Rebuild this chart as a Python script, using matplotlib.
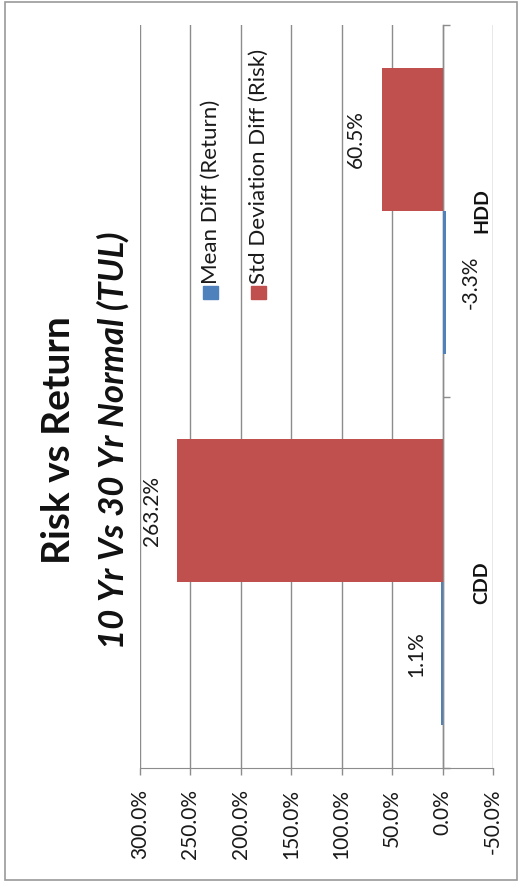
import matplotlib
matplotlib.use("Agg")
import matplotlib.pyplot as plt
from matplotlib.patches import Rectangle
from matplotlib.ticker import FuncFormatter, FixedLocator

# Risk vs return, 10 yr vs 30 yr normal, laid out sideways
categories = ["CDD", "HDD"]
mean_diff = [1.1, -3.3]        # return, %
std_diff = [263.2, 60.5]       # risk, %
series_names = ["Mean Diff (Return)", "Std Deviation Diff (Risk)"]
value_ticks = [300, 250, 200, 150, 100, 50, 0, -50]

BLUE = "#4F81BD"
RED = "#C0504D"
GRID = "#8C8C8C"
FONT = "Lato"

W, H = 518, 884
fig = plt.figure(figsize=(W / 100, H / 100), dpi=100)
fig.patch.set_facecolor("white")

def fx(px):
    return px / W

def fy(py):
    return 1 - py / H

# chart border
fig.patches.append(Rectangle((fx(5), fy(880)), fx(512), (880 - 2) / H,
                             transform=fig.transFigure, fill=False,
                             edgecolor="#9A9A9A", linewidth=1.2))

ax = fig.add_axes([fx(140), fy(768), fx(493 - 140), (768 - 25) / H])
ax.set_facecolor("white")

bh = 0.385
pos = list(range(len(categories)))
mean_y = [p - bh / 2 for p in pos]
std_y = [p + bh / 2 for p in pos]
ax.barh(mean_y, mean_diff, height=bh, color=BLUE, zorder=3)
ax.barh(std_y, std_diff, height=bh, color=RED, zorder=3)

ax.set_xlim(300, -50)
ax.set_ylim(-0.5, 1.5)

# value axis along the bottom
ax.xaxis.set_major_locator(FixedLocator(value_ticks))
ax.xaxis.set_major_formatter(FuncFormatter(lambda v, _: f"{v:.1f}%"))
ax.grid(axis="x", color=GRID, linewidth=1.0, zorder=0)
ax.tick_params(axis="x", direction="out", length=5, width=1.0, color=GRID,
               pad=10, labelrotation=90, labelsize=15)
for lab in ax.get_xticklabels():
    lab.set_fontfamily(FONT)
    lab.set_color("#1A1A1A")

for s in ["left", "top"]:
    ax.spines[s].set_visible(False)
ax.spines["bottom"].set_color(GRID)
ax.spines["right"].set_position(("data", 0))
ax.spines["right"].set_color(GRID)
ax.spines["right"].set_linewidth(1.0)

# category axis crossing at zero
ax.yaxis.tick_right()
ax.set_yticks([-0.5, 0.5, 1.5])
ax.set_yticklabels([])
ax.set_yticks(pos, minor=True)
ax.set_yticklabels(categories, minor=True)
ax.tick_params(axis="y", which="major", direction="out", length=5,
               color=GRID, width=1.0)
ax.tick_params(axis="y", which="minor", length=0, pad=22, labelrotation=90)
for lab in ax.get_yticklabels(minor=True):
    lab.set_fontfamily(FONT)
    lab.set_fontweight("bold")
    lab.set_fontsize(14)
    lab.set_color("#111111")
    lab.set_verticalalignment("center")

# data labels at the outer end of each bar
for ys, vals in [(mean_y, mean_diff), (std_y, std_diff)]:
    for y, v in zip(ys, vals):
        if v >= 0:
            ax.annotate(f"{v:.1f}%", (v, y), xytext=(-14, 0),
                        textcoords="offset points", rotation=90,
                        rotation_mode="anchor", ha="center", va="baseline",
                        fontsize=15, family=FONT, color="#1A1A1A")
        else:
            ax.annotate(f"{v:.1f}%", (v, y), xytext=(11, 0),
                        textcoords="offset points", rotation=90,
                        rotation_mode="anchor", ha="center", va="top",
                        fontsize=15, family=FONT, color="#1A1A1A")

# legend
for x0, col, name in [(203, BLUE, series_names[0]), (251, RED, series_names[1])]:
    fig.patches.append(Rectangle((fx(x0), fy(299)), fx(15), 13 / H,
                                 transform=fig.transFigure, color=col))
    fig.text(fx(x0 + 7.5), fy(284), name, rotation=90, ha="center",
             va="bottom", fontsize=16, family=FONT, color="#1A1A1A")

# titles
fig.text(fx(58), fy(440), "Risk vs Return", rotation=90, ha="center",
         va="center", fontsize=28, fontweight="bold", family=FONT,
         color="#111111")
fig.text(fx(113), fy(440), "10 Yr Vs 30 Yr Normal (TUL)", rotation=90,
         ha="center", va="center", fontsize=25, fontweight="bold",
         style="italic", family=FONT, color="#111111")

fig.savefig("out.png", dpi=100)
